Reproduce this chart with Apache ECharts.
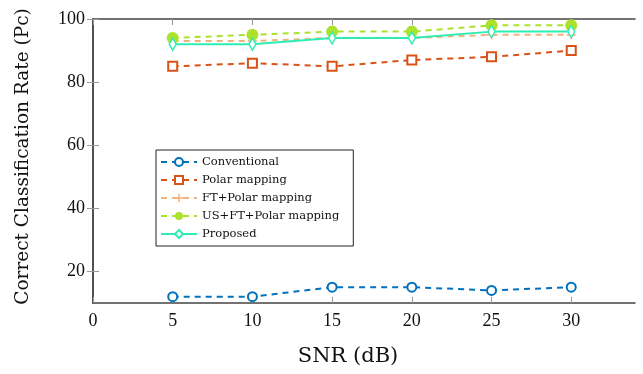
<!DOCTYPE html>
<html>
<head>
<meta charset="utf-8">
<script src="https://cdn.jsdelivr.net/npm/echarts@6/dist/echarts.min.js"></script>
<style>
  html, body { margin: 0; padding: 0; background: #fff; }
  #chart { width: 643px; height: 374px; }
</style>
</head>
<body>
<div id="chart"></div>
<script>
// SNR levels (dB) and classification rates (%) for each method
const snr = [5, 10, 15, 20, 25, 30];
const conventional = [12, 12, 15, 15, 14, 15];
const polarMapping = [85, 86, 85, 87, 88, 90];
const ftPolar = [93, 93, 94, 94, 95, 95];
const usFtPolar = [94, 95, 96, 96, 98, 98];
const proposed = [92, 92, 94, 94, 96, 96];

const xTicks = [0, 5, 10, 15, 20, 25, 30];
const yTicks = [20, 40, 60, 80, 100];

const FONT = 'Liberation Serif';
const WIDE_FONT = 'DejaVu Serif';
const plusPath = 'path://M4,0h2v4h4v2h-4v4h-2v-4h-4v-2h4z';

function pairs(ys) { return snr.map((x, i) => [x, ys[i]]); }

function lineSeries(name, ys, color, opts) {
  return Object.assign({
    name: name,
    type: 'line',
    data: pairs(ys),
    xAxisIndex: 0,
    yAxisIndex: 0,
    lineStyle: { color: color, width: 2, type: [6, 5] },
    itemStyle: { color: '#fff', borderColor: color, borderWidth: 2 },
    symbol: 'circle',
    symbolSize: 9,
    z: 3
  }, opts || {});
}

const tickStyle = { show: true, inside: true, length: 6, lineStyle: { color: '#999', width: 1 } };
const frameLine = { show: true, lineStyle: { color: '#444', width: 1.5 } };

const chart = echarts.init(document.getElementById('chart'), null, { renderer: 'canvas' });
chart.setOption({
  animation: false,
  backgroundColor: '#fff',
  grid: { left: 93, right: 8, top: 19, bottom: 71, containLabel: false, outerBoundsMode: 'none' },
  legend: {
    orient: 'vertical',
    left: 156,
    top: 150,
    padding: [5, 14, 5, 4],
    itemGap: 4,
    itemWidth: 36,
    itemHeight: 10,
    backgroundColor: '#fff',
    borderColor: '#222',
    borderWidth: 1,
    textStyle: { fontFamily: WIDE_FONT, fontSize: 11.5, lineHeight: 14, color: '#111' },
    data: ['Conventional', 'Polar mapping', 'FT+Polar mapping', 'US+FT+Polar mapping', 'Proposed']
  },
  xAxis: [
    {
      type: 'value', min: 0, max: 34, position: 'bottom',
      name: 'SNR (dB)', nameLocation: 'middle', nameGap: 43,
      nameTextStyle: { fontFamily: WIDE_FONT, fontSize: 21, color: '#111', padding: [0, 32, 0, 0] },
      axisLine: frameLine,
      axisTick: Object.assign({ customValues: xTicks }, tickStyle),
      axisLabel: { customValues: xTicks, fontFamily: FONT, fontSize: 18, color: '#111', margin: 9 },
      splitLine: { show: false }
    },
    {
      type: 'value', min: 0, max: 34, position: 'top',
      axisLine: frameLine,
      axisTick: Object.assign({ customValues: xTicks }, tickStyle),
      axisLabel: { show: false },
      splitLine: { show: false }
    }
  ],
  yAxis: [
    {
      type: 'value', min: 10, max: 100, position: 'left',
      name: 'Correct Classification Rate (Pc)', nameLocation: 'middle', nameGap: 60,
      nameTextStyle: { fontFamily: WIDE_FONT, fontSize: 18.5, color: '#111', padding: [0, 0, 0, 9] },
      axisLine: frameLine,
      axisTick: Object.assign({ customValues: yTicks }, tickStyle),
      axisLabel: { customValues: yTicks, fontFamily: FONT, fontSize: 18, color: '#111', margin: 8 },
      splitLine: { show: false }
    },
    {
      type: 'value', min: 10, max: 100, position: 'right',
      axisLine: frameLine,
      axisTick: Object.assign({ customValues: yTicks }, tickStyle),
      axisLabel: { show: false },
      splitLine: { show: false }
    }
  ],
  series: [
    lineSeries('Conventional', conventional, '#0072BD'),
    lineSeries('Polar mapping', polarMapping, '#D95319', { symbol: 'rect', symbolSize: 9 }),
    lineSeries('FT+Polar mapping', ftPolar, '#F2B27E', {
      symbol: plusPath, symbolSize: 9,
      itemStyle: { color: '#F2B27E', borderWidth: 0 }
    }),
    lineSeries('US+FT+Polar mapping', usFtPolar, '#ABE22B', {
      symbolSize: 12,
      itemStyle: { color: '#ABE22B', borderWidth: 0 }
    }),
    lineSeries('Proposed', proposed, '#2EEDB4', {
      lineStyle: { color: '#2EEDB4', width: 2, type: 'solid' },
      symbol: 'diamond', symbolSize: [7, 12],
      itemStyle: { color: '#fff', borderColor: '#2EEDB4', borderWidth: 1.5 },
      z: 4
    })
  ]
});
</script>
</body>
</html>
